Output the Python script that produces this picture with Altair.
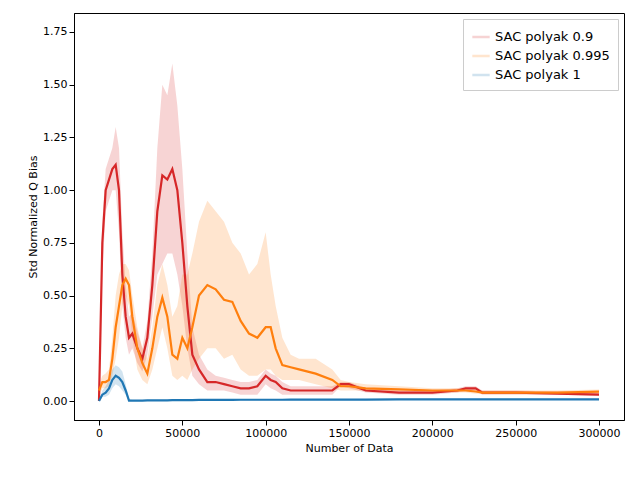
# Std normalized Q bias for three SAC polyak settings
import pandas as pd
import altair as alt

x = [0, 2000, 4000, 6000, 8000, 10000, 12000, 14000, 16000, 18000, 20000, 23000, 26000, 29000,
     32000, 35000, 38000, 41000, 44000, 47000, 50000, 53000, 56000, 60000, 65000, 70000, 75000,
     80000, 85000, 90000, 95000, 100000, 103000, 106000, 110000, 115000, 120000, 130000, 140000,
     145000, 150000, 160000, 180000, 200000, 215000, 220000, 226000, 230000, 250000, 275000, 300000]

red_mean = [0.0, .75, 1.0, 1.05, 1.1, 1.12, 1.0, .6, .4, .3, .32, .25, .2, .3, .55, .9, 1.07, 1.05, 1.1, 1.0,
            .75, .45, .22, .15, .09, .09, .08, .07, .06, .06, .07, .12, .1, .09, .06, .05, .05, .05, .05,
            .08, .08, .05, .04, .04, .05, .06, .06, .04, .04, .035, .03]
red_hi = [.02, .85, 1.1, 1.15, 1.2, 1.3, 1.2, .8, .55, .4, .42, .33, .25, .38, .7, 1.2, 1.5, 1.45, 1.6, 1.4,
          1.1, .7, .35, .22, .15, .12, .11, .1, .09, .09, .1, .15, .13, .12, .09, .07, .07, .07, .07,
          .09, .09, .06, .05, .05, .06, .07, .07, .05, .05, .045, .04]
red_lo = [0, .6, .9, .95, 1.0, 1.0, .8, .45, .3, .22, .25, .18, .14, .22, .4, .6, .65, .7, .7, .6,
          .45, .25, .12, .08, .05, .05, .05, .04, .03, .03, .03, .08, .06, .05, .03, .03, .03, .03, .03,
          .07, .06, .04, .03, .03, .04, .05, .05, .03, .03, .03, .025]

orange_mean = [.05, .09, .09, .1, .2, .35, .45, .55, .58, .55, .4, .25, .18, .13, .25, .4, .49, .4, .22, .2,
               .3, .25, .35, .5, .55, .53, .48, .47, .38, .32, .3, .35, .35, .25, .17, .16, .15, .13, .1,
               .07, .07, .06, .055, .05, .05, .05, .045, .04, .04, .04, .045]
orange_hi = [.08, .12, .13, .15, .3, .5, .6, .65, .65, .62, .5, .35, .25, .2, .35, .55, .65, .55, .4, .45,
             .6, .6, .7, .85, .95, .9, .85, .75, .7, .6, .65, .8, .6, .45, .3, .22, .2, .2, .15,
             .1, .09, .08, .07, .06, .06, .06, .055, .05, .05, .05, .055]
orange_lo = [.02, .06, .06, .07, .12, .2, .3, .45, .5, .45, .3, .15, .1, .08, .15, .25, .35, .25, .12, .1,
             .12, .1, .15, .2, .25, .25, .2, .22, .15, .12, .12, .15, .15, .12, .1, .1, .1, .08, .06,
             .05, .05, .05, .045, .04, .04, .04, .035, .035, .035, .035, .035]

blue_mean = [0, .03, .04, .06, .1, .12, .11, .09, .05, .002, .002, .002, .002, .003, .003, .003, .003,
             .003, .004, .004, .004, .004, .004, .005, .005, .005, .005, .005, .006, .006, .006, .006,
             .006, .006, .006, .007, .007, .007, .007, .007, .007, .007, .008, .008, .008, .008, .008,
             .008, .008, .008, .008]
blue_hi = [0, .05, .07, .1, .15, .17, .16, .14, .08, .01] + [v + .003 for v in blue_mean[10:]]
blue_lo = [0, .02, .02, .03, .06, .08, .07, .05, .03, 0] + [max(v - .003, 0) for v in blue_mean[10:]]

names = ["SAC polyak 0.9", "SAC polyak 0.995", "SAC polyak 1"]
colors = ["#d62728", "#ff7f0e", "#1f77b4"]

frames = []
for name, m, lo, hi in [(names[0], red_mean, red_lo, red_hi),
                        (names[1], orange_mean, orange_lo, orange_hi),
                        (names[2], blue_mean, blue_lo, blue_hi)]:
    frames.append(pd.DataFrame({"x": x, "series": name, "mean": m, "lo": lo, "hi": hi}))
df = pd.concat(frames)

legend = alt.Legend(title=None, orient="top-right", symbolType="stroke",
                    symbolStrokeWidth=2.5, labelFontSize=13, fillColor="white",
                    strokeColor="#cccccc", padding=8, symbolSize=300, offset=6)
color = alt.Color("series:N", scale=alt.Scale(domain=names, range=colors), legend=legend)

xenc = alt.X("x:Q", title="Number of Data", scale=alt.Scale(domain=[-15000, 315000], nice=False),
             axis=alt.Axis(values=list(range(0, 300001, 50000)), format="d", grid=False, labelFlush=False))

band = alt.Chart(df).mark_area(opacity=0.2).encode(
    x=xenc,
    y=alt.Y("lo:Q"),
    y2="hi:Q",
    color=color
)

line = alt.Chart(df).mark_line(strokeWidth=2.2).encode(
    x=xenc,
    y=alt.Y("mean:Q", title="Std Normalized Q Bias",
            scale=alt.Scale(domain=[-0.09, 1.84], nice=False, zero=False),
            axis=alt.Axis(values=[0, .25, .5, .75, 1.0, 1.25, 1.5, 1.75], format=".2f", grid=False)),
    color=color
)

chart = (band + line).properties(
    width=550, height=407, padding={"left": 19, "top": 5, "right": 5, "bottom": 5}
).configure_view(
    stroke="black", strokeWidth=1
).configure_axis(
    labelFont="DejaVu Sans", titleFont="DejaVu Sans", labelFontSize=11, titleFontSize=11,
    titleFontWeight="normal", labelColor="black", titleColor="black",
    domainColor="black", tickColor="black"
).configure_legend(labelFont="DejaVu Sans")

chart.save("out.html", embed_options={"renderer": "svg", "actions": False})
